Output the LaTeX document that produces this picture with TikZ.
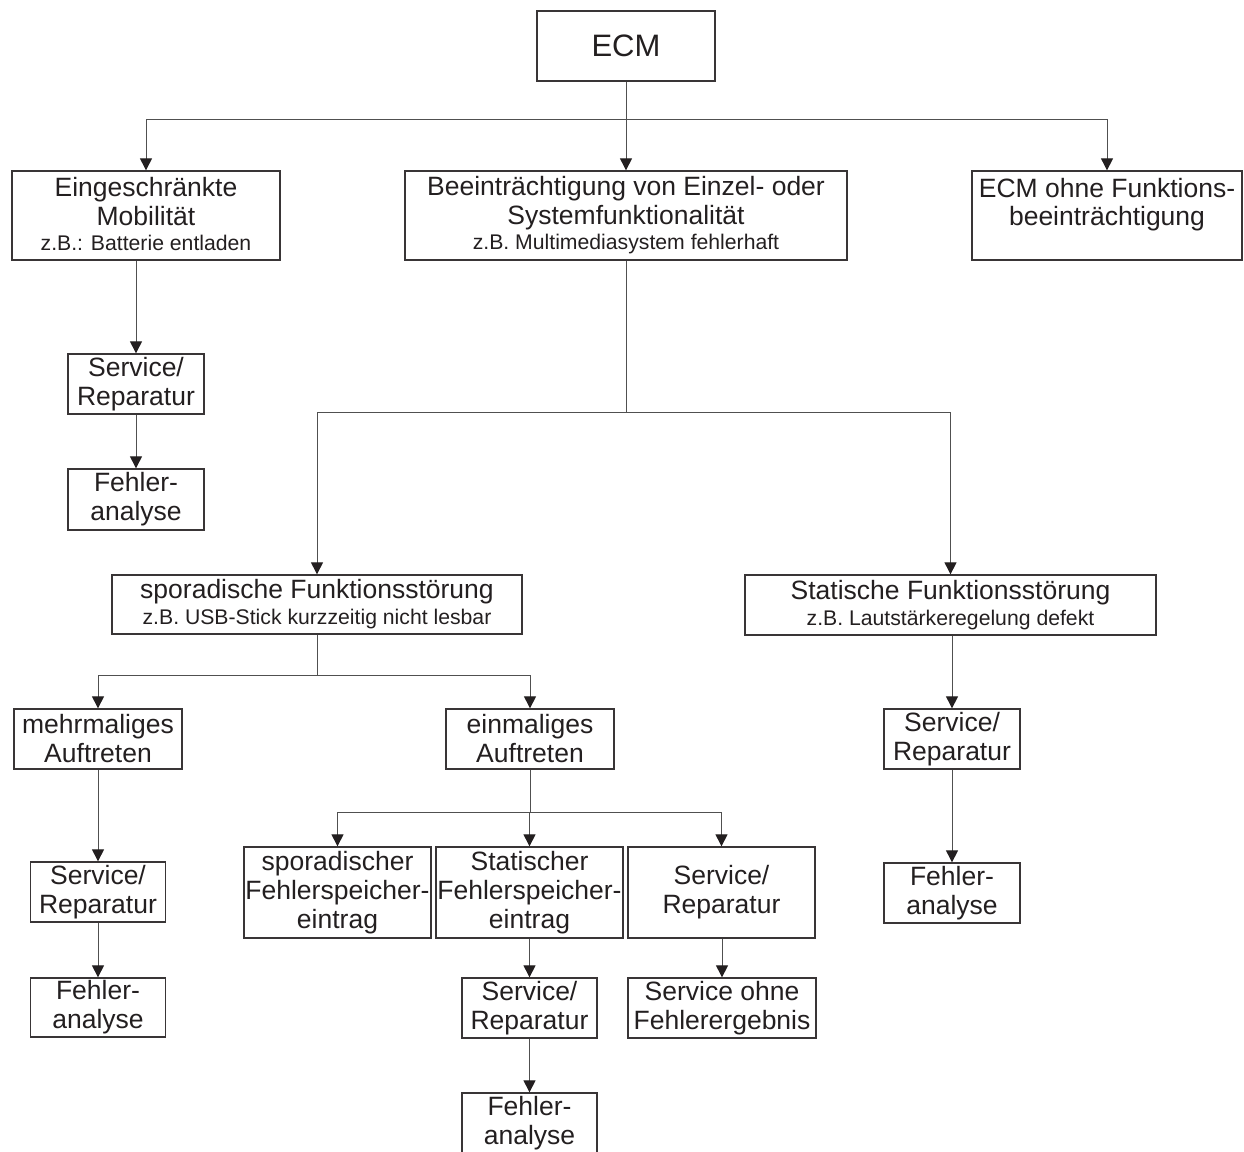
\documentclass[tikz,border=0pt]{standalone}
\usepackage{fontspec}
\setmainfont{Liberation Sans}
\usetikzlibrary{arrows.meta}
\definecolor{ink}{HTML}{231F20}
\definecolor{edge}{HTML}{505050}
\newcommand{\smalltxt}{\fontsize{21.2}{29}\selectfont}
\begin{document}
\begin{tikzpicture}[x=1pt,y=-1pt,
  box/.style={draw=ink!90, line width=1.3pt, text=ink, inner sep=0pt, align=center,
    font=\fontsize{26.5}{29}\selectfont},
  link/.style={draw=edge, line width=1pt},
  arr/.style={link, -{Triangle[length=12pt,width=12pt,color=ink]}}]
\useasboundingbox (0,0) rectangle (1244,1151);

% level 0
\node[box, minimum width=178pt, minimum height=70pt, font=\fontsize{31}{34}\selectfont] (ecm) at (626,46) {ECM};

% level 1
\node[box, minimum width=268pt, minimum height=89pt] (a) at (146,215.5)
  {Eingeschränkte\\Mobilität\\[-4pt]{\smalltxt z.B.: Batterie entladen\rule[-3pt]{0pt}{0pt}}};
\node[box, minimum width=442pt, minimum height=89pt] (b) at (626,215.5)
  {Beeinträchtigung von Einzel- oder\\Systemfunktionalität\\[-4pt]{\smalltxt z.B. Multimediasystem fehlerhaft\rule[-3pt]{0pt}{0pt}}};
\node[box, minimum width=270pt, minimum height=89pt, font=\fontsize{26.5}{28}\selectfont] (c) at (1107,215.5)
  {ECM ohne Funktions-\\beeinträchtigung\\~};

% left branch
\node[box, minimum width=136pt, minimum height=60pt] (asr) at (136,384) {Service/\\Reparatur};
\node[box, minimum width=136pt, minimum height=61pt] (afa) at (136,499.5) {Fehler-\\analyse};

% level 2
\node[box, minimum width=410pt, minimum height=59pt] (d) at (317,604.5)
  {sporadische Funktionsstörung\\[-3pt]{\smalltxt z.B. USB-Stick kurzzeitig nicht lesbar}};
\node[box, minimum width=411pt, minimum height=60pt] (e) at (950.5,605)
  {Statische Funktionsstörung\\[-3pt]{\smalltxt z.B. Lautstärkeregelung defekt}};

% level 3
\node[box, minimum width=168pt, minimum height=60pt] (f) at (98,739) {mehrmaliges\\Auftreten};
\node[box, minimum width=168pt, minimum height=60pt] (g) at (530,739) {einmaliges\\Auftreten};
\node[box, minimum width=136pt, minimum height=60pt] (esr) at (952,739) {Service/\\Reparatur};
\node[box, minimum width=136pt, minimum height=60pt] (efa) at (952,893) {Fehler-\\analyse};

\node[box, minimum width=135pt, minimum height=60pt] (fsr) at (98,892) {Service/\\Reparatur};
\node[box, minimum width=135pt, minimum height=59pt] (ffa) at (98,1007.5) {Fehler-\\analyse};

% level 4
\node[box, minimum width=187pt, minimum height=91pt] (h) at (337.5,892.5) {sporadischer\\Fehlerspeicher-\\eintrag};
\node[box, minimum width=187pt, minimum height=91pt] (i) at (529.5,892.5) {Statischer\\Fehlerspeicher-\\eintrag};
\node[box, minimum width=187pt, minimum height=91pt] (j) at (721.5,892.5) {Service/\\Reparatur};

\node[box, minimum width=135pt, minimum height=60pt] (isr) at (529.5,1008) {Service/\\Reparatur};
\node[box, minimum width=135pt, minimum height=60pt] (ifa) at (529.5,1123) {Fehler-\\analyse};
\node[box, minimum width=188pt, minimum height=60pt] (jso) at (722,1008) {Service ohne\\Fehlerergebnis};

% connectors
\coordinate (bus1) at (626,119);
\draw[arr] (ecm.south) -- (b.north);
\draw[arr] (bus1) -| (a.north);
\draw[arr] (bus1) -| (c.north);

\draw[arr] (a.south -| asr.north) -- (asr.north);
\draw[arr] (asr.south) -- (afa.north);

\coordinate (bus2) at (626,412);
\draw[link] (b.south) -- (bus2);
\draw[arr] (bus2) -| (d.north);
\draw[arr] (bus2) -| (e.north);

\coordinate (bus3) at (317,675);
\draw[link] (d.south) -- (bus3);
\draw[arr] (bus3) -| (f.north);
\draw[arr] (bus3) -| (g.north);

\draw[arr] (f.south) -- (fsr.north);
\draw[arr] (fsr.south) -- (ffa.north);

\draw[arr] (esr.north |- e.south) -- (esr.north);
\draw[arr] (esr.south) -- (efa.north);

\coordinate (bus4) at (530,812);
\draw[link] (g.south) -- (bus4);
\draw[arr] (bus4) -| (h.north);
\draw[arr] (bus4) -- (i.north |- bus4) -- (i.north);
\draw[arr] (bus4) -| (j.north);

\draw[arr] (i.south) -- (isr.north);
\draw[arr] (isr.south) -- (ifa.north);
\draw[arr] (jso.north |- j.south) -- (jso.north);
\end{tikzpicture}
\end{document}
